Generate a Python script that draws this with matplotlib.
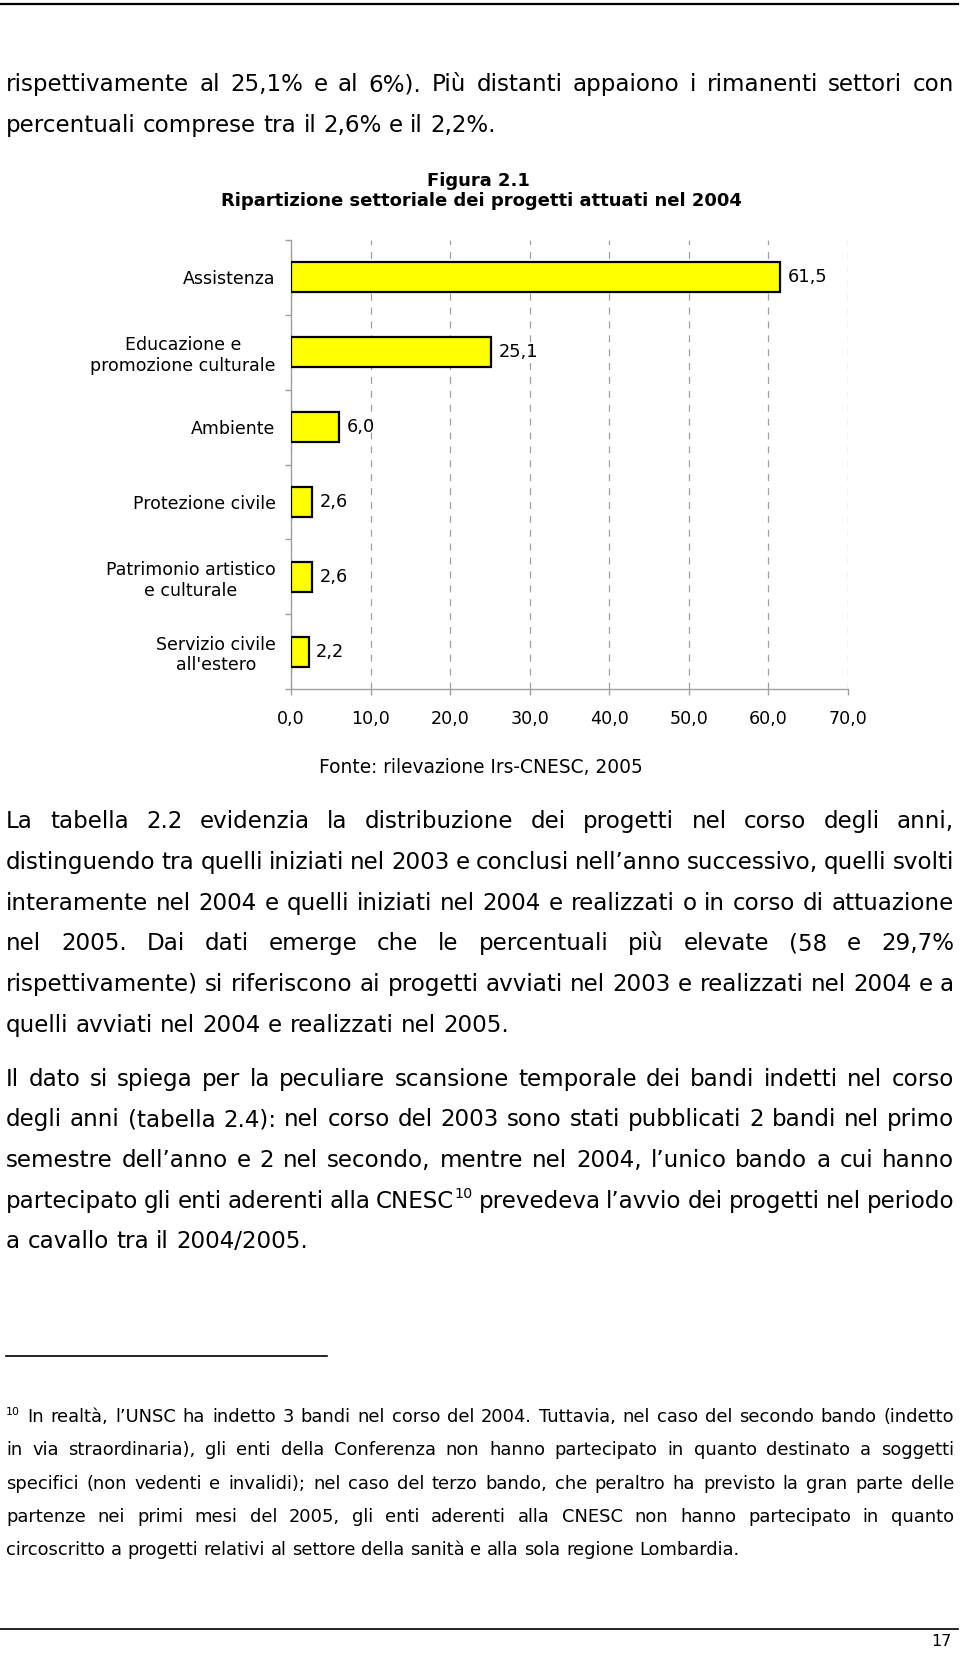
import matplotlib
matplotlib.use("Agg")
import matplotlib.pyplot as plt
from matplotlib.font_manager import FontProperties
from matplotlib.lines import Line2D
import numpy as np

plt.rcParams['font.family'] = ['DejaVu Sans']
plt.rcParams['lines.scale_dashes'] = False

# ---------------- data ----------------
categories = ["Assistenza", "Educazione e\npromozione culturale", "Ambiente",
              "Protezione civile", "Patrimonio artistico\ne culturale",
              "Servizio civile\nall'estero"]
values = [61.5, 25.1, 6.0, 2.6, 2.6, 2.2]
value_labels = ["61,5", "25,1", "6,0", "2,6", "2,6", "2,2"]
xticks = [0, 10, 20, 30, 40, 50, 60, 70]
xtick_labels = ["0,0", "10,0", "20,0", "30,0", "40,0", "50,0", "60,0", "70,0"]

fig_label = "Figura 2.1"
fig_title = "Ripartizione settoriale dei progetti attuati nel 2004"
source = "Fonte: rilevazione Irs-CNESC, 2005"

# '^' marks a superscript inside a word
intro_lines = [
    "rispettivamente al 25,1% e al 6%). Più distanti appaiono i rimanenti settori con",
    "percentuali comprese tra il 2,6% e il 2,2%.",
]
para1_lines = [
    "La tabella 2.2 evidenzia la distribuzione dei progetti nel corso degli anni,",
    "distinguendo tra quelli iniziati nel 2003 e conclusi nell’anno successivo, quelli svolti",
    "interamente nel 2004 e quelli iniziati nel 2004 e realizzati o in corso di attuazione",
    "nel 2005. Dai dati emerge che le percentuali più elevate (58 e 29,7%",
    "rispettivamente) si riferiscono ai progetti avviati nel 2003 e realizzati nel 2004 e a",
    "quelli avviati nel 2004 e realizzati nel 2005.",
]
para2_lines = [
    "Il dato si spiega per la peculiare scansione temporale dei bandi indetti nel corso",
    "degli anni (tabella 2.4): nel corso del 2003 sono stati pubblicati 2 bandi nel primo",
    "semestre dell’anno e 2 nel secondo, mentre nel 2004, l’unico bando a cui hanno",
    "partecipato gli enti aderenti alla CNESC^10 prevedeva l’avvio dei progetti nel periodo",
    "a cavallo tra il 2004/2005.",
]
foot_lines = [
    "^10 In realtà, l’UNSC ha indetto 3 bandi nel corso del 2004. Tuttavia, nel caso del secondo bando (indetto",
    "in via straordinaria), gli enti della Conferenza non hanno partecipato in quanto destinato a soggetti",
    "specifici (non vedenti e invalidi); nel caso del terzo bando, che peraltro ha previsto la gran parte delle",
    "partenze nei primi mesi del 2005, gli enti aderenti alla CNESC non hanno partecipato in quanto",
    "circoscritto a progetti relativi al settore della sanità e alla sola regione Lombardia.",
]
page_number = "17"

# ---------------- figure ----------------
W, H = 960, 1654
fig = plt.figure(figsize=(W / 100, H / 100), dpi=100)
fig.patch.set_facecolor('white')
renderer = fig.canvas.get_renderer()
SUP = 0.62


def fx(x):
    return x / W


def fy(y):
    # snap baselines to whole pixels (slightly off the .5 boundary) so that
    # every word of a line is rasterised on the same baseline
    return 1 - (round(y) + 0.3) / H


def raw_w(s, size, weight='normal'):
    if not s:
        return 0.0
    prop = FontProperties(family='DejaVu Sans', size=size, weight=weight)
    w, h, d = renderer.get_text_width_height_descent(s, prop, ismath=False)
    return w


def tw(token, size):
    if '^' in token:
        base, sup = token.split('^')
        return raw_w(base, size) + raw_w(sup, size * SUP)
    return raw_w(token, size)


def space_w(size):
    return raw_w("a a", size) - raw_w("aa", size)


def size_for_width(line, width):
    s0 = 10.0
    words = line.split(' ')
    nat = sum(tw(w, s0) for w in words) + space_w(s0) * (len(words) - 1)
    return s0 * width / nat


def fit_size(just_lines, x0, x1, cap, min_space=0.75):
    s0 = 10.0
    sp = space_w(s0)
    sizes = [cap]
    for line in just_lines:
        words = line.split(' ')
        nat = sum(tw(w, s0) for w in words) + min_space * sp * (len(words) - 1)
        sizes.append(s0 * (x1 - x0) / nat)
    return min(sizes)


def draw_token(token, x, y, size):
    if '^' in token:
        base, sup = token.split('^')
        if base:
            fig.text(fx(x), fy(y), base, fontsize=size, ha='left', va='baseline')
        xs = x + raw_w(base, size)
        fig.text(fx(xs), fy(y - 0.42 * size * 100 / 72), sup, fontsize=size * SUP,
                 ha='left', va='baseline')
    else:
        fig.text(fx(x), fy(y), token, fontsize=size, ha='left', va='baseline')


def draw_line(line, y, size, x0, x1, justify):
    words = line.split(' ')
    widths = [tw(w, size) for w in words]
    if justify and len(words) > 1:
        gap = (x1 - x0 - sum(widths)) / (len(words) - 1)
    else:
        gap = space_w(size)
    x = x0
    for w, wd in zip(words, widths):
        draw_token(w, x, y, size)
        x += wd + gap


def draw_paragraph(lines, y0, step, size, x0, x1):
    for i, line in enumerate(lines):
        draw_line(line, y0 + i * step, size, x0, x1, justify=(i < len(lines) - 1))


def hrule(x0, x1, y, lw):
    fig.add_artist(Line2D([fx(x0), fx(x1)], [1 - y / H, 1 - y / H],
                          transform=fig.transFigure, color='black', lw=lw))


X0, X1 = 6, 954
body_just = intro_lines[:-1] + para1_lines[:-1] + para2_lines[:-1]
body_cap = size_for_width(intro_lines[-1], 514)
body_size = fit_size(body_just, X0, X1, body_cap)
foot_cap = size_for_width(foot_lines[-1], 734)
foot_size = fit_size(foot_lines[:-1], X0, X1, foot_cap)

# rules
hrule(0, 958, 3.5, 1.6)
hrule(6, 327, 1356, 1.2)
hrule(0, 958, 1629, 1.2)

# text blocks
draw_paragraph(intro_lines, 91, 40.5, body_size, X0, X1)
draw_paragraph(para1_lines, 828, 40.8, body_size, X0, X1)
draw_paragraph(para2_lines, 1086, 40.5, body_size, X0, X1)
draw_paragraph(foot_lines, 1422, 33.3, foot_size, X0, X1)

fig.text(fx(952), fy(1646), page_number, fontsize=11.5, ha='right', va='baseline')

# titles
fig.text(fx(478), fy(186), fig_label, fontsize=13, fontweight='bold',
         ha='center', va='baseline')
fig.text(fx(481), fy(206), fig_title, fontsize=13, fontweight='bold',
         ha='center', va='baseline')
fig.text(fx(481), fy(773), source, fontsize=13.4, ha='center', va='baseline')

# ---------------- chart ----------------
ax_left, ax_right, ax_top, ax_bottom = 291, 848, 240, 689
ax = fig.add_axes([fx(ax_left), 1 - ax_bottom / H, (ax_right - ax_left) / W,
                   (ax_bottom - ax_top) / H])
gray = '#a0a0a0'
ypos = np.arange(len(categories))
ax.barh(ypos, values, height=0.4, color='#FFFF00', edgecolor='black',
        linewidth=1.6, zorder=3)
for yi, v, lbl in zip(ypos, values, value_labels):
    ax.annotate(lbl, (v, yi), xytext=(5.5, 0), textcoords='offset points',
                ha='left', va='center', fontsize=12.8)

ax.set_xlim(xticks[0], xticks[-1])
ax.set_ylim(len(categories) - 0.5, -0.5)
ax.set_xticks(xticks)
ax.set_xticklabels(xtick_labels, fontsize=12.6)
ax.set_yticks(ypos)
ax.set_yticklabels(categories, fontsize=12.5)
for t in ax.get_yticklabels():
    t.set_multialignment('center')
ax.set_yticks(np.arange(-0.5, len(categories)), minor=True)
ax.tick_params(axis='y', which='major', length=0, pad=11)
ax.tick_params(axis='y', which='minor', length=4, color=gray, width=1)
ax.tick_params(axis='x', which='major', length=4, color=gray, width=1, pad=11)

for s in ['top', 'right']:
    ax.spines[s].set_visible(False)
for s in ['left', 'bottom']:
    ax.spines[s].set_color(gray)
    ax.spines[s].set_linewidth(1)

ax.grid(axis='x', color=gray, linewidth=0.9, linestyle=(0, (5, 5)), zorder=0)
ax.set_axisbelow(True)
ax.set_facecolor('white')

fig.savefig('out.png', dpi=100, facecolor='white')
